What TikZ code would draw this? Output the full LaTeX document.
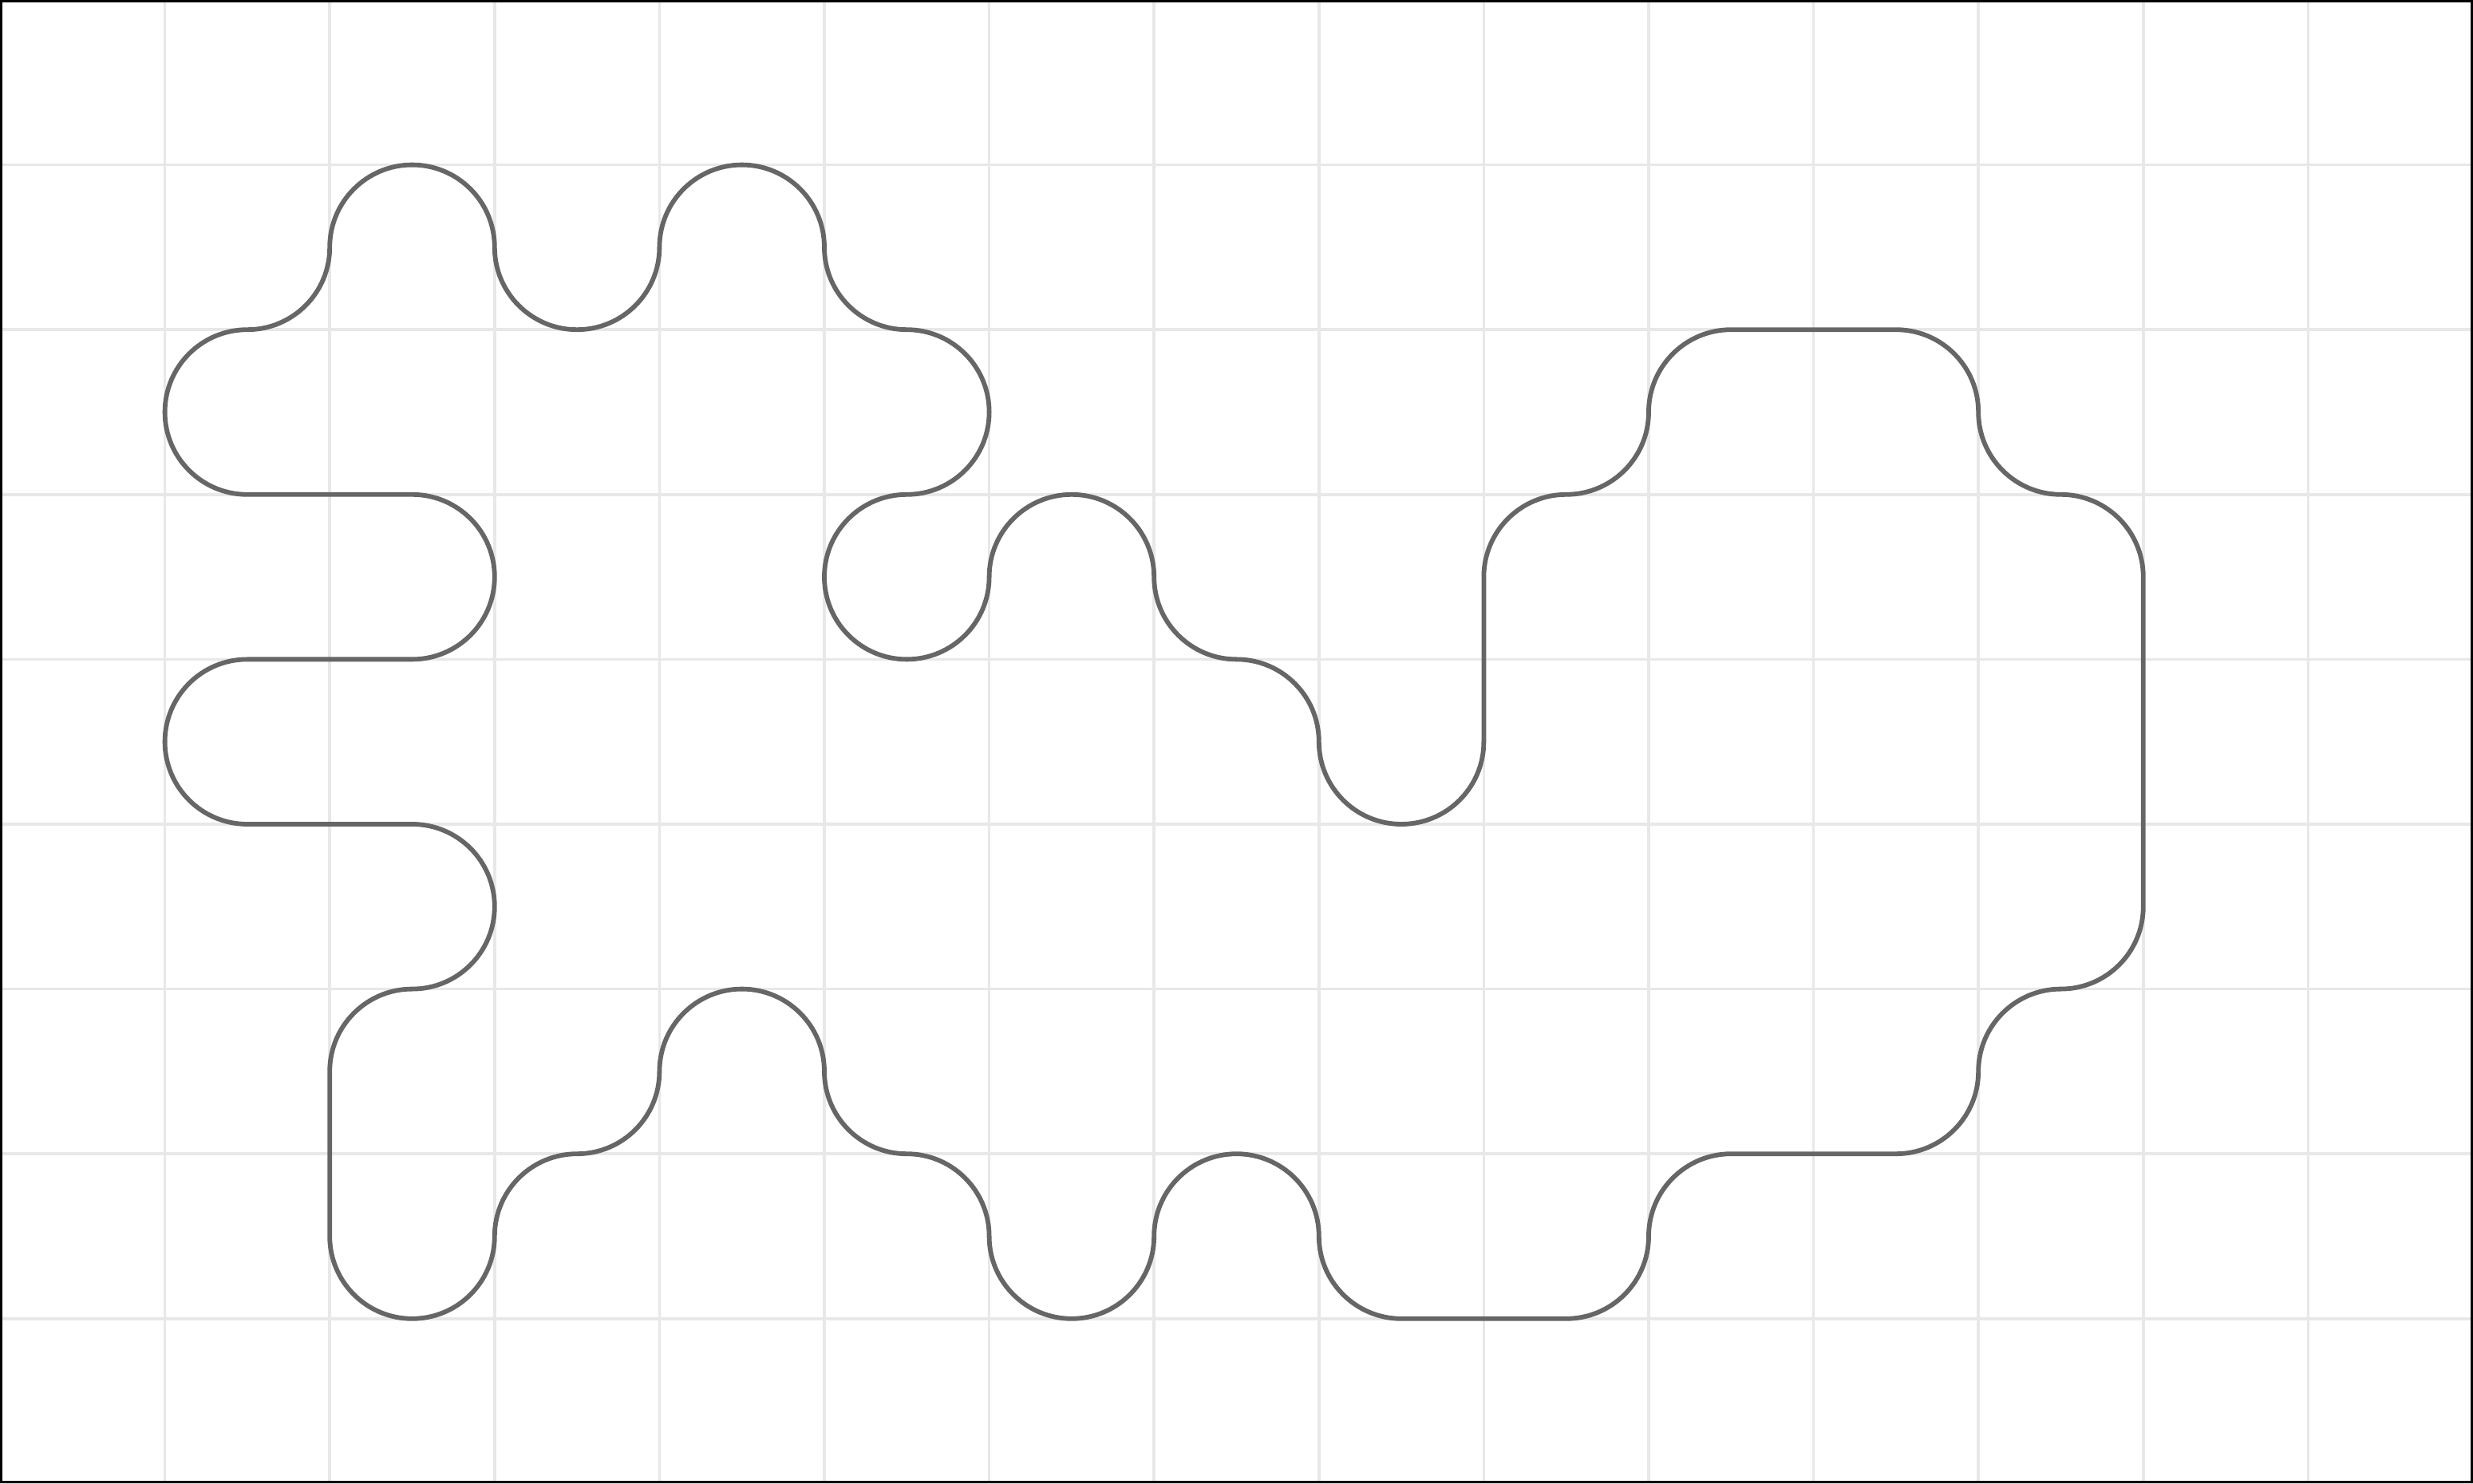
\documentclass[tikz,border=0pt]{standalone}
\begin{document}
\begin{tikzpicture}[
  gridline/.style={draw=black!9, line width=0.5pt},
  outline/.style={draw=black!60, line width=0.8pt, line join=round},
  frame/.style={draw=black, line width=0.45pt}
]
\useasboundingbox (0,0) rectangle (15,9);
\draw[gridline] (0,0) grid[step=1] (15,9);
\draw[outline] (1.5,7)
  arc[start angle=90, end angle=270, radius=0.5]
  -- (2.5,6)
  arc[start angle=90, end angle=-90, radius=0.5]
  -- (1.5,5)
  arc[start angle=90, end angle=270, radius=0.5]
  -- (2.5,4)
  arc[start angle=90, end angle=-90, radius=0.5]
  arc[start angle=90, end angle=180, radius=0.5]
  -- (2,1.5)
  arc[start angle=180, end angle=360, radius=0.5]
  arc[start angle=180, end angle=90, radius=0.5]
  arc[start angle=-90, end angle=0, radius=0.5]
  arc[start angle=180, end angle=0, radius=0.5]
  arc[start angle=180, end angle=270, radius=0.5]
  arc[start angle=90, end angle=0, radius=0.5]
  arc[start angle=180, end angle=360, radius=0.5]
  arc[start angle=180, end angle=0, radius=0.5]
  arc[start angle=180, end angle=270, radius=0.5]
  -- (9.5,1)
  arc[start angle=-90, end angle=0, radius=0.5]
  arc[start angle=180, end angle=90, radius=0.5]
  -- (11.5,2)
  arc[start angle=-90, end angle=0, radius=0.5]
  arc[start angle=180, end angle=90, radius=0.5]
  arc[start angle=-90, end angle=0, radius=0.5]
  -- (13,5.5)
  arc[start angle=0, end angle=90, radius=0.5]
  arc[start angle=270, end angle=180, radius=0.5]
  arc[start angle=0, end angle=90, radius=0.5]
  -- (10.5,7)
  arc[start angle=90, end angle=180, radius=0.5]
  arc[start angle=0, end angle=-90, radius=0.5]
  arc[start angle=90, end angle=180, radius=0.5]
  -- (9,4.5)
  arc[start angle=0, end angle=-180, radius=0.5]
  arc[start angle=0, end angle=90, radius=0.5]
  arc[start angle=270, end angle=180, radius=0.5]
  arc[start angle=0, end angle=180, radius=0.5]
  arc[start angle=0, end angle=-270, radius=0.5]
  arc[start angle=-90, end angle=90, radius=0.5]
  arc[start angle=270, end angle=180, radius=0.5]
  arc[start angle=0, end angle=180, radius=0.5]
  arc[start angle=0, end angle=-180, radius=0.5]
  arc[start angle=0, end angle=180, radius=0.5]
  arc[start angle=0, end angle=-90, radius=0.5]
  -- cycle;
\draw[frame] (0.008,0.008) rectangle (14.992,8.992);
\end{tikzpicture}
\end{document}
